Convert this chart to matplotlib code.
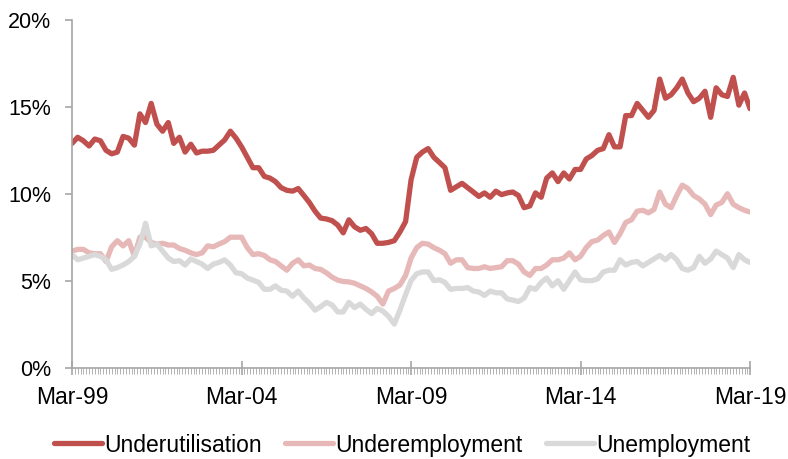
import numpy as np
import pandas as pd
import matplotlib
matplotlib.use("Agg")
import matplotlib.pyplot as plt
import matplotlib.dates as mdates
from matplotlib.ticker import PercentFormatter

plt.rcParams['font.family'] = ['Liberation Sans', 'DejaVu Sans']

# bi-monthly readings, Mar-99 .. Mar-19 (per cent)
dates = pd.date_range('1999-03-01', '2019-03-01', freq='2MS')

underutilisation = [
    12.9, 13.25, 13.05, 12.75, 13.15, 13.05, 12.5, 12.3, 12.4, 13.3,
    13.2, 12.8, 14.6, 14.1, 15.2, 14.0, 13.6, 14.1, 12.9, 13.25,
    12.4, 12.85, 12.35, 12.45, 12.45, 12.5, 12.8, 13.1, 13.6, 13.2,
    12.7, 12.1, 11.5, 11.5, 11.0, 10.9, 10.7, 10.35, 10.2, 10.15,
    10.3, 9.9, 9.5, 9.0, 8.6, 8.55, 8.45, 8.2, 7.75, 8.5,
    8.1, 7.9, 8.0, 7.7, 7.15, 7.15, 7.2, 7.3, 7.8, 8.4,
    10.8, 12.1, 12.4, 12.6, 12.1, 11.8, 11.5, 10.2, 10.4, 10.6,
    10.35, 10.1, 9.85, 10.05, 9.8, 10.15, 9.95, 10.05, 10.1, 9.9,
    9.2, 9.3, 10.05, 9.8, 10.9, 11.2, 10.7, 11.2, 10.85, 11.4,
    11.4, 12.0, 12.2, 12.5, 12.6, 13.4, 12.7, 12.7, 14.5, 14.5,
    15.2, 14.8, 14.4, 14.8, 16.6, 15.5, 15.7, 16.1, 16.6, 15.8,
    15.3, 15.5, 15.9, 14.4, 16.1, 15.7, 15.6, 16.7, 15.1, 15.8,
    14.9,
]

underemployment = [
    6.7, 6.8, 6.8, 6.6, 6.55, 6.55, 6.1, 6.95, 7.3, 7.0,
    7.3, 6.4, 7.5, 7.5, 7.2, 7.1, 7.15, 7.05, 7.05, 6.85,
    6.75, 6.6, 6.5, 6.6, 7.0, 6.95, 7.1, 7.25, 7.5, 7.5,
    7.5, 6.9, 6.5, 6.55, 6.45, 6.2, 6.1, 5.85, 5.6, 6.0,
    6.2, 5.85, 5.9, 5.7, 5.65, 5.45, 5.2, 5.03, 4.95, 4.93,
    4.85, 4.7, 4.55, 4.35, 4.1, 3.65, 4.4, 4.55, 4.75, 5.3,
    6.3, 6.9, 7.15, 7.1, 6.9, 6.75, 6.55, 6.0, 6.2, 6.2,
    5.75, 5.7, 5.7, 5.8, 5.7, 5.75, 5.8, 6.15, 6.15, 5.95,
    5.5, 5.3, 5.7, 5.7, 5.9, 6.2, 6.2, 6.3, 6.6, 6.2,
    6.4, 6.9, 7.25, 7.33, 7.6, 7.8, 7.2, 7.7, 8.35, 8.5,
    9.0, 9.05, 8.9, 9.1, 10.1, 9.4, 9.2, 9.9, 10.5, 10.3,
    9.9, 9.7, 9.4, 8.8, 9.35, 9.5, 10.0, 9.4, 9.2, 9.05,
    8.95,
]

unemployment = [
    6.5, 6.2, 6.3, 6.4, 6.5, 6.4, 6.2, 5.65, 5.75, 5.9,
    6.1, 6.4, 7.1, 8.3, 7.0, 7.1, 6.7, 6.3, 6.1, 6.15,
    5.9, 6.25, 6.1, 5.95, 5.7, 5.95, 6.05, 6.2, 5.9, 5.45,
    5.4, 5.15, 5.03, 4.9, 4.5, 4.5, 4.7, 4.45, 4.4, 4.1,
    4.4, 4.0, 3.7, 3.3, 3.5, 3.75, 3.6, 3.2, 3.2, 3.75,
    3.45, 3.65, 3.35, 3.1, 3.4, 3.25, 2.95, 2.5, 3.3, 4.2,
    5.0, 5.4, 5.5, 5.5, 5.0, 5.05, 4.9, 4.5, 4.55, 4.55,
    4.6, 4.4, 4.35, 4.15, 4.4, 4.3, 4.3, 3.95, 3.88, 3.8,
    4.0, 4.6, 4.5, 4.9, 5.15, 4.7, 5.0, 4.5, 5.0, 5.5,
    5.05, 5.0, 5.0, 5.1, 5.5, 5.6, 5.6, 6.2, 5.9, 6.05,
    6.1, 5.85, 6.05, 6.25, 6.45, 6.2, 6.5, 6.2, 5.7, 5.6,
    5.75, 6.4, 6.0, 6.25, 6.7, 6.5, 6.3, 5.75, 6.5, 6.2,
    6.05,
]

series = [
    ("Underutilisation", underutilisation, "#C0504D"),
    ("Underemployment", underemployment, "#E6B9B8"),
    ("Unemployment", unemployment, "#D9D9D9"),
]

fig = plt.figure(figsize=(7.88, 4.59), dpi=100)
ax = fig.add_axes([0.0914, 0.1993, 0.8604, 0.7571])

for name, vals, col in series:
    ax.plot(dates, vals, color=col, lw=3.8, label=name,
            solid_joinstyle='round', solid_capstyle='round')

ax.set_xlim(pd.Timestamp('1999-03-01'), pd.Timestamp('2019-03-01'))
ax.set_ylim(0, 20)
ax.set_yticks([0, 5, 10, 15, 20])
ax.yaxis.set_major_formatter(PercentFormatter(decimals=0))

ax.set_xticks(pd.date_range('1999-03-01', '2019-03-01', freq='60MS'))
ax.xaxis.set_major_formatter(mdates.DateFormatter('%b-%y'))
ax.xaxis.set_minor_locator(mdates.MonthLocator())

for s in ['top', 'right']:
    ax.spines[s].set_visible(False)
for s in ['left', 'bottom']:
    ax.spines[s].set_color('#A6A6A6')
    ax.spines[s].set_linewidth(1.2)

ax.tick_params(axis='y', colors='#A6A6A6', length=5, width=1.2, labelsize=15.5,
               labelcolor='black', pad=10)
ax.tick_params(axis='x', which='major', direction='inout', length=10, width=1.2,
               colors='#A6A6A6', labelsize=16.5, labelcolor='black', pad=8)
ax.tick_params(axis='x', which='minor', direction='out', length=4, width=0.6, colors='#A6A6A6')

ax.legend(loc='center', bbox_to_anchor=(0.487, -0.223), ncol=3, frameon=False,
          fontsize=16.5, handlelength=2.1, handletextpad=0.1, columnspacing=1.0,
          borderpad=0.1)

fig.savefig('out.png', dpi=100)
